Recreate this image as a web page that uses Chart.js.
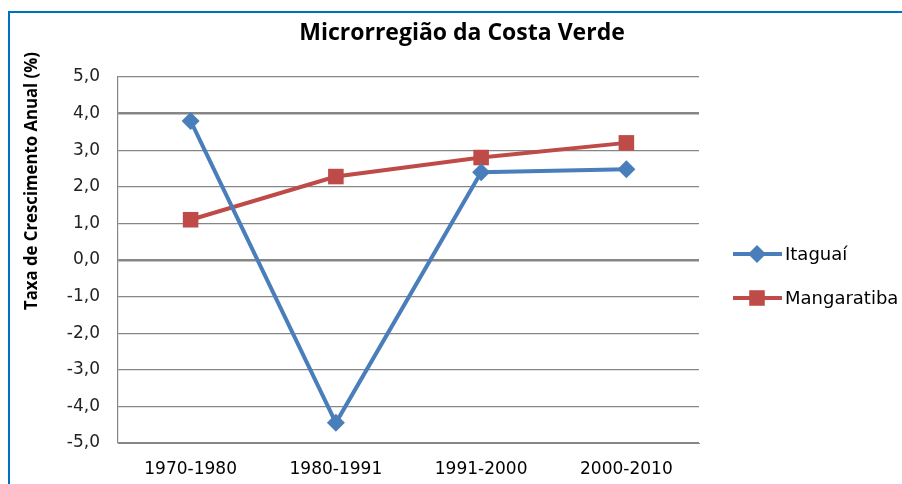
<!DOCTYPE html>
<html>
<head>
<meta charset="utf-8">
<script src="https://cdn.jsdelivr.net/npm/chart.js@4/dist/chart.umd.min.js"></script>
<style>
  html, body { margin: 0; padding: 0; background: #fff; overflow: hidden; }
  #wrap { position: relative; width: 902px; height: 484px; }
</style>
</head>
<body>
<div id="wrap"><canvas id="chart" width="902" height="484"></canvas></div>
<script>
const titulo = "Microrregião da Costa Verde";
const tituloEixoY = "Taxa de Crescimento Anual (%)";
const periodos = ["1970-1980", "1980-1991", "1991-2000", "2000-2010"];
const itaguai = [3.8, -4.45, 2.4, 2.48];
const mangaratiba = [1.1, 2.28, 2.8, 3.2];
const ticksY = [5, 4, 3, 2, 1, 0, -1, -2, -3, -4, -5];

const AZUL = "#4A7EBB";
const VERMELHO = "#BE4B48";
const GRADE = "#868686";

// frame, title, axis title and legend, drawn the Excel way
const decor = {
  id: "decor",
  afterDraw(chart) {
    const ctx = chart.ctx;
    ctx.save();

    // blue frame
    ctx.fillStyle = "#0070C0";
    ctx.fillRect(8, 11, 2, 473);
    ctx.fillRect(8, 11, 894, 2);

    // title
    ctx.fillStyle = "#000";
    ctx.font = "bold 23px 'Open Sans'";
    ctx.textAlign = "center";
    ctx.textBaseline = "middle";
    ctx.fillText(titulo, 462, 33, 330);

    // y axis title
    ctx.save();
    ctx.translate(32, 181);
    ctx.rotate(-Math.PI / 2);
    ctx.font = "bold 18px 'Open Sans'";
    ctx.fillText(tituloEixoY, 0, 0, 258);
    ctx.restore();

    // legend
    ctx.textAlign = "left";
    ctx.font = "18px 'DejaVu Sans'";
    chart.data.datasets.forEach((ds, i) => {
      const y = 254 + i * 44;
      ctx.strokeStyle = ds.borderColor;
      ctx.lineWidth = 4;
      ctx.beginPath();
      ctx.moveTo(733, y);
      ctx.lineTo(782, y);
      ctx.stroke();
      ctx.fillStyle = ds.backgroundColor;
      Chart.helpers.drawPoint(ctx, {
        pointStyle: ds.pointStyle,
        radius: ds.pointRadius,
        rotation: 0,
        borderWidth: 0
      }, 757, y);
      ctx.fillStyle = "#000";
      ctx.fillText(ds.label, 785, y + 1);
    });

    ctx.restore();
  }
};

new Chart(document.getElementById("chart").getContext("2d"), {
  type: "line",
  data: {
    labels: periodos,
    datasets: [
      {
        label: "Itaguaí",
        data: itaguai,
        borderColor: AZUL,
        backgroundColor: AZUL,
        borderWidth: 4,
        pointStyle: "rectRot",
        pointRadius: 9,
        pointBorderWidth: 0,
        tension: 0
      },
      {
        label: "Mangaratiba",
        data: mangaratiba,
        borderColor: VERMELHO,
        backgroundColor: VERMELHO,
        borderWidth: 4,
        pointStyle: "rect",
        pointRadius: 11,
        pointBorderWidth: 0,
        tension: 0
      }
    ]
  },
  options: {
    responsive: false,
    animation: false,
    events: [],
    layout: {
      padding: { top: 77, left: 0, right: 203, bottom: 0 }
    },
    plugins: {
      legend: { display: false },
      title: { display: false },
      tooltip: { enabled: false }
    },
    scales: {
      x: {
        offset: true,
        grid: { display: false, drawTicks: false },
        border: { display: true, color: GRADE, width: 1 },
        ticks: {
          color: "#000",
          padding: 16,
          font: { family: "DejaVu Sans", size: 17 }
        },
        afterFit(scale) {
          scale.height = 41;
        }
      },
      y: {
        min: -5,
        max: 5,
        afterBuildTicks(scale) {
          scale.ticks = ticksY.map((v) => ({ value: v }));
        },
        grid: {
          color: GRADE,
          drawTicks: false,
          lineWidth: (c) => (c.tick && (c.tick.value === 4 || c.tick.value === 0) ? 2.5 : 1.2)
        },
        border: { display: true, color: GRADE, width: 1.2 },
        ticks: {
          color: "#222",
          padding: 18,
          font: { family: "DejaVu Sans", size: 17 },
          callback: (v) => v.toFixed(1).replace(".", ",")
        },
        afterFit(scale) {
          scale.width = 118;
        }
      }
    }
  },
  plugins: [decor]
});
</script>
</body>
</html>
